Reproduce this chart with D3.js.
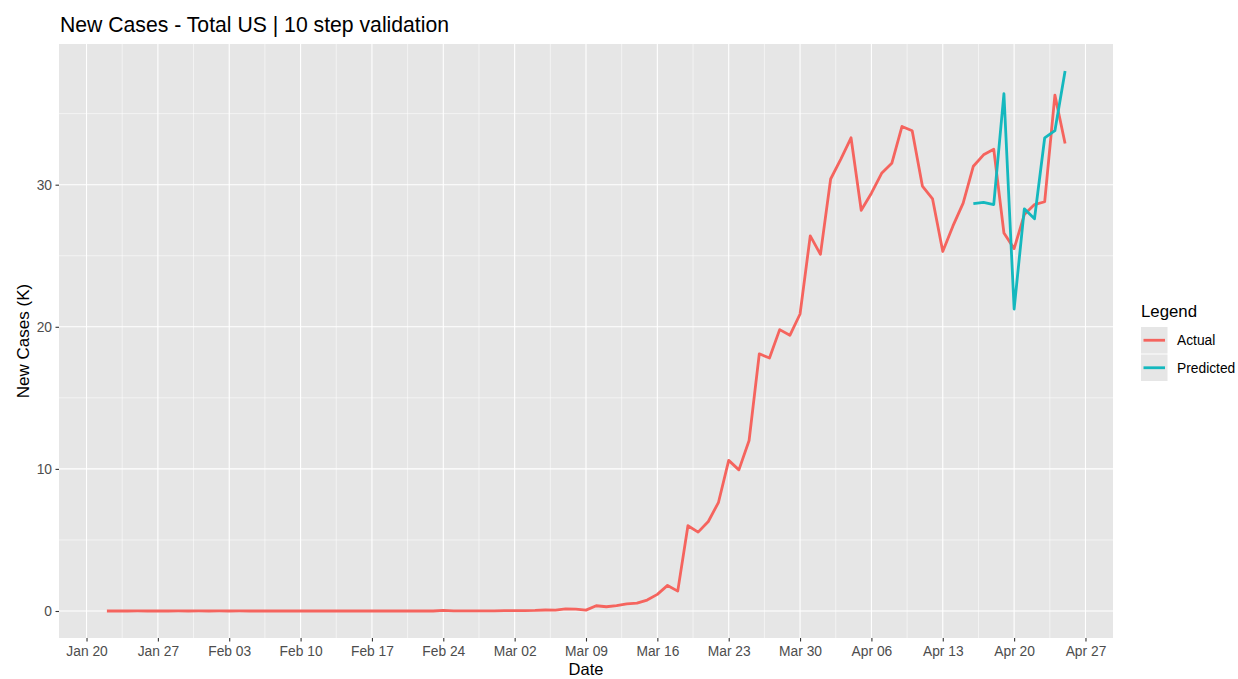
<!DOCTYPE html>
<html>
<head>
<meta charset="utf-8">
<script src="https://cdn.jsdelivr.net/npm/d3@7"></script>
<style>
  body { margin: 0; background: #fff; }
  text { font-family: "Liberation Sans", Arial, Helvetica, sans-serif; }
</style>
</head>
<body>
<div id="chart"></div>
<script>
// data (thousands of new cases per day)
var startDate = "2020-01-22";
var actual = [
  // Jan 22 - Jan 31
  0, 0, 0.001, 0.002, 0.001, 0, 0.001, 0.002, 0, 0.002,
  // Feb 1 - Feb 29
  0.001, 0.003, 0.001, 0.002, 0, 0, 0, 0.001, 0, 0.001,
  0, 0, 0, 0, 0.001, 0, 0, 0, 0, 0,
  0, 0, 0, 0.04, 0.01, 0.01, 0.005, 0.01, 0.01,
  // Mar 1 - Mar 31
  0.02, 0.02, 0.03, 0.04, 0.07, 0.06, 0.15, 0.13, 0.06, 0.37,
  0.3, 0.38, 0.5, 0.55, 0.77, 1.17, 1.8, 1.4, 6.0, 5.55,
  6.3, 7.65, 10.6, 9.93, 12.0, 18.1, 17.8, 19.8, 19.4, 20.9,
  26.4,
  // Apr 1 - Apr 25
  25.1, 30.4, 31.8, 33.3, 28.2, 29.4, 30.8, 31.5, 34.1, 33.8,
  29.9, 29.0, 25.3, 27.1, 28.7, 31.3, 32.1, 32.5, 26.6, 25.5,
  27.9, 28.6, 28.8, 36.3, 32.9
];
var predStart = "2020-04-16";
var predicted = [28.66, 28.75, 28.6, 36.4, 21.25, 28.3, 27.6, 33.3, 33.8, 38.0];

var yTicks = [0, 10, 20, 30];
var yMinor = [5, 15, 25, 35];
var seriesNames = ["Actual", "Predicted"];
var seriesColors = ["#F5645E", "#14B8BE"];

var W = 1238, H = 679;
var panel = {left: 59, right: 1113, top: 44, bottom: 638};

var parse = d3.utcParse("%Y-%m-%d");
function toPoints(start, vals) {
  var s = parse(start);
  return vals.map(function(v, i) { return {date: d3.utcDay.offset(s, i), value: v}; });
}
var actualPts = toPoints(startDate, actual);
var predPts = toPoints(predStart, predicted);
var allPts = actualPts.concat(predPts);

// ggplot style 5% expansion
var xExt = d3.extent(allPts, function(d) { return +d.date; });
var xPad = (xExt[1] - xExt[0]) * 0.05;
var x = d3.scaleUtc()
  .domain([new Date(xExt[0] - xPad), new Date(xExt[1] + xPad)])
  .range([panel.left, panel.right]);

var yMax = d3.max(allPts, function(d) { return d.value; });
var yPad = yMax * 0.05;
var y = d3.scaleLinear()
  .domain([0 - yPad, yMax + yPad])
  .range([panel.bottom, panel.top]);

var svg = d3.select("#chart").append("svg")
  .attr("width", W).attr("height", H);

svg.append("rect")
  .attr("x", panel.left).attr("y", panel.top)
  .attr("width", panel.right - panel.left)
  .attr("height", panel.bottom - panel.top)
  .attr("fill", "#E6E6E6");

// week ticks (Mondays) + minor in between
var xTicks = d3.utcMonday.range(parse("2020-01-20"), parse("2020-04-28"));
var xMinor = xTicks.slice(0, -1).map(function(d) { return new Date(+d + 3.5 * 864e5); });
xMinor.unshift(new Date(+xTicks[0] - 3.5 * 864e5));

var grid = svg.append("g");
grid.selectAll(".xminor").data(xMinor).enter().append("line")
  .attr("x1", function(d) { return x(d); }).attr("x2", function(d) { return x(d); })
  .attr("y1", panel.top).attr("y2", panel.bottom)
  .attr("stroke", "#fff").attr("stroke-width", 0.55);
grid.selectAll(".yminor").data(yMinor).enter().append("line")
  .attr("x1", panel.left).attr("x2", panel.right)
  .attr("y1", function(d) { return y(d); }).attr("y2", function(d) { return y(d); })
  .attr("stroke", "#fff").attr("stroke-width", 0.55);
grid.selectAll(".xmajor").data(xTicks).enter().append("line")
  .attr("x1", function(d) { return x(d); }).attr("x2", function(d) { return x(d); })
  .attr("y1", panel.top).attr("y2", panel.bottom)
  .attr("stroke", "#fff").attr("stroke-width", 1.1);
grid.selectAll(".ymajor").data(yTicks).enter().append("line")
  .attr("x1", panel.left).attr("x2", panel.right)
  .attr("y1", function(d) { return y(d); }).attr("y2", function(d) { return y(d); })
  .attr("stroke", "#fff").attr("stroke-width", 1.1);

// axes
var fmt = d3.utcFormat("%b %d");
var xAxis = svg.append("g")
  .attr("transform", "translate(0," + panel.bottom + ")")
  .call(d3.axisBottom(x).tickValues(xTicks).tickFormat(fmt).tickSizeInner(3.5).tickSizeOuter(0).tickPadding(3));
var yAxis = svg.append("g")
  .attr("transform", "translate(" + panel.left + ",0)")
  .call(d3.axisLeft(y).tickValues(yTicks).tickSizeInner(3.5).tickSizeOuter(0).tickPadding(3.5));
[xAxis, yAxis].forEach(function(a) {
  a.select(".domain").remove();
  a.selectAll(".tick line").attr("stroke", "#333").attr("stroke-width", 1.1);
  a.selectAll(".tick text").attr("fill", "#4D4D4D").style("font-size", "13.8px")
    .style("font-family", "'Liberation Sans', Arial, sans-serif");
});
xAxis.selectAll(".tick text").attr("dy", "0.85em");

// lines
var line = d3.line()
  .x(function(d) { return x(d.date); })
  .y(function(d) { return y(d.value); });
[actualPts, predPts].forEach(function(pts, i) {
  svg.append("path").datum(pts)
    .attr("fill", "none")
    .attr("stroke", seriesColors[i])
    .attr("stroke-width", 2.8)
    .attr("stroke-linejoin", "round")
    .attr("d", line);
});

// titles
svg.append("text").attr("x", 60).attr("y", 31.5)
  .style("font-size", "21.2px").attr("fill", "#000")
  .text("New Cases - Total US | 10 step validation");
svg.append("text").attr("x", (panel.left + panel.right) / 2).attr("y", 674.5)
  .attr("text-anchor", "middle").style("font-size", "16.5px").attr("fill", "#000")
  .text("Date");
svg.append("text")
  .attr("transform", "translate(29," + ((panel.top + panel.bottom) / 2) + ") rotate(-90)")
  .attr("text-anchor", "middle").style("font-size", "17px").attr("fill", "#000")
  .text("New Cases (K)");

// legend
var leg = svg.append("g").attr("transform", "translate(1141,0)");
leg.append("text").attr("x", 0).attr("y", 317)
  .style("font-size", "16.8px").attr("fill", "#000").text("Legend");
seriesNames.forEach(function(name, i) {
  var top = 327 + i * 27.5;
  leg.append("rect").attr("x", 0).attr("y", top)
    .attr("width", 26.5).attr("height", 26.5).attr("fill", "#E6E6E6");
  leg.append("line").attr("x1", 2.5).attr("x2", 24).attr("y1", top + 13.25).attr("y2", top + 13.25)
    .attr("stroke", seriesColors[i]).attr("stroke-width", 2.8);
  leg.append("text").attr("x", 36).attr("y", top + 18)
    .style("font-size", "13.8px").attr("fill", "#000").text(name);
});
</script>
</body>
</html>
